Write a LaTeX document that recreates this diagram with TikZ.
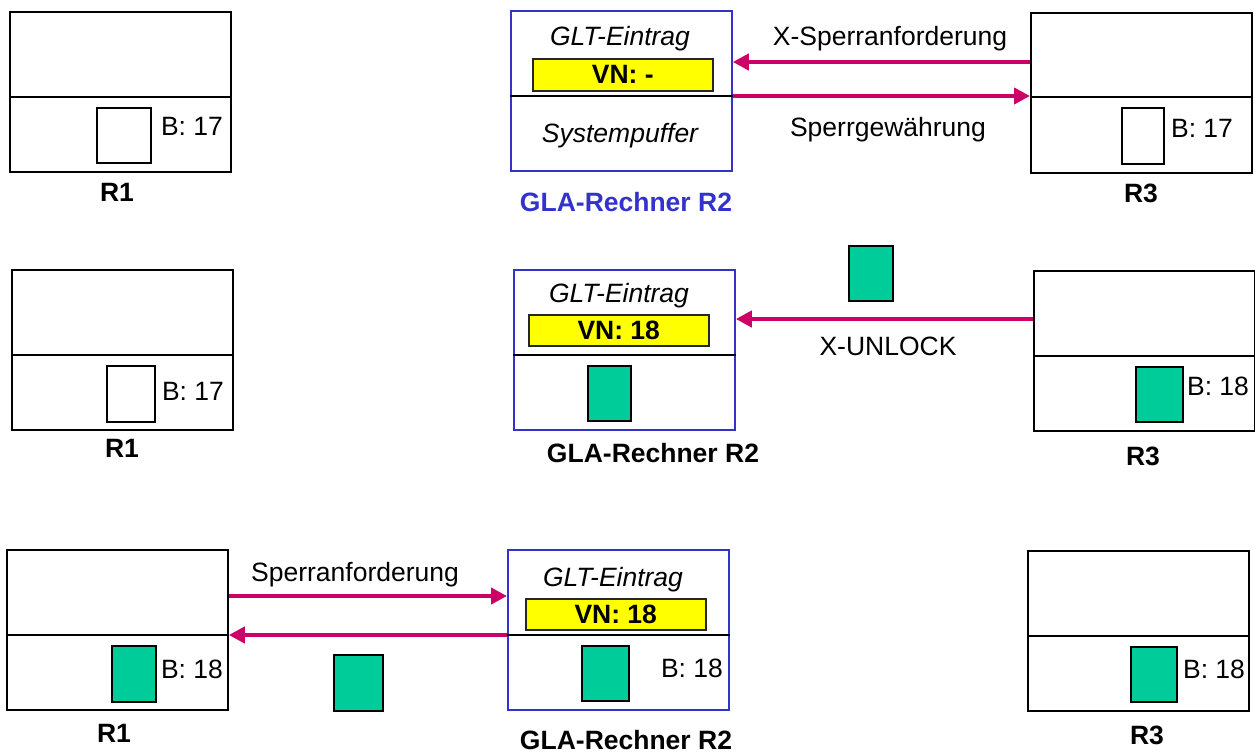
\documentclass[tikz,border=0pt]{standalone}
\usepackage{fontspec}
\setmainfont{Liberation Sans}
\usetikzlibrary{arrows.meta}
\definecolor{mag}{HTML}{CC0066}
\definecolor{grn}{HTML}{00CC99}
\definecolor{blu}{HTML}{3333CC}
\definecolor{yel}{HTML}{FFFF00}
\begin{document}
\begin{tikzpicture}[x=1pt,y=-1pt,
  every node/.style={font=\fontsize{26.5}{30}\selectfont},
  sz/.style 2 args={minimum width=#1pt, minimum height=#2pt},
  host/.style={draw=black, line width=1.8pt, anchor=north west, inner sep=0, sz={221}{160}},
  glahost/.style={host, draw=blu},
  div/.style={draw=black, line width=1.8pt},
  blk/.style={draw=black, line width=1.5pt, anchor=north west, inner sep=0, fill=white},
  gblk/.style={blk, fill=grn},
  vn/.style={draw=black!85, line width=1.5pt, anchor=north west, inner sep=0, fill=yel, font=\fontsize{26.5}{30}\selectfont\bfseries},
  lbl/.style={inner sep=0, text height=19pt, text depth=0pt},
  blbl/.style={lbl, font=\fontsize{26.5}{30}\selectfont\bfseries},
  ilbl/.style={lbl, font=\fontsize{26.5}{30}\selectfont\itshape},
  arr/.style={draw=mag, line width=4pt, -{Triangle[length=16pt,width=16pt]}}
]
\useasboundingbox (0,0) rectangle (1255,753);

% ---------------- Row 1 ----------------
\node[host] (r1a) at (9,11) {};
\draw[div] ([yshift=-86pt]r1a.north west) -- ([yshift=-86pt]r1a.north east);
\node[blk, sz={54}{55}] (b1a) at (96,107) {};
\node[lbl] (t1a) at (192,126) {B: 17};
\node[blbl] (n1a) at (117,192) {R1};

\node[glahost] (r2a) at (510,10) {};
\draw[div] ([yshift=-86pt]r2a.north west) -- ([yshift=-86pt]r2a.north east);
\node[ilbl] (g2a) at (620,36) {GLT-Eintrag};
\node[vn, sz={180}{32}] (v2a) at (532,58) {VN: -};
\node[ilbl] (s2a) at (620,133) {Systempuffer};
\node[blbl, text=blu] (n2a) at (626,202) {GLA-Rechner R2};

\node[host] (r3a) at (1030,12) {};
\draw[div] ([yshift=-85pt]r3a.north west) -- ([yshift=-85pt]r3a.north east);
\node[blk, sz={42}{56}] (b3a) at (1121,107) {};
\node[lbl] (t3a) at (1202,128) {B: 17};
\node[blbl] (n3a) at (1141,193) {R3};

\coordinate (a1) at ([yshift=-50pt]r3a.north west);
\draw[arr] (a1) -- (a1 -| r2a.east);
\node[lbl] (l1) at (890,36) {X-Sperranforderung};
\coordinate (a2) at ([yshift=-86pt]r2a.north east);
\draw[arr] (a2) -- (a2 -| r3a.west);
\node[lbl] (l2) at (888,127) {Sperrgewährung};

% ---------------- Row 2 ----------------
\node[host] (r1b) at (11,269) {};
\draw[div] ([yshift=-86pt]r1b.north west) -- ([yshift=-86pt]r1b.north east);
\node[blk, sz={48}{56}] (b1b) at (106,365) {};
\node[lbl] (t1b) at (193,391) {B: 17};
\node[blbl] (n1b) at (122,448) {R1};

\node[glahost] (r2b) at (513,269) {};
\draw[div] ([yshift=-86pt]r2b.north west) -- ([yshift=-86pt]r2b.north east);
\node[ilbl] (g2b) at (619,293) {GLT-Eintrag};
\node[vn, sz={180}{31}] (v2b) at (528,314) {VN: 18};
\node[gblk, sz={43}{55}] (b2b) at (587,365) {};
\node[blbl] (n2b) at (653,453) {GLA-Rechner R2};

\node[host] (r3b) at (1033,270) {};
\draw[div] ([yshift=-86pt]r3b.north west) -- ([yshift=-86pt]r3b.north east);
\node[gblk, sz={47}{55}] (b3b) at (1135,366) {};
\node[lbl] (t3b) at (1218,386) {B: 18};
\node[blbl] (n3b) at (1143,456) {R3};

\node[gblk, sz={44}{55}] (fb) at (848,245) {};
\coordinate (a3) at ([yshift=-49pt]r3b.north west);
\draw[arr] (a3) -- (a3 -| r2b.east);
\node[lbl] (l3) at (888,346) {X-UNLOCK};

% ---------------- Row 3 ----------------
\node[host] (r1c) at (6,549) {};
\draw[div] ([yshift=-86pt]r1c.north west) -- ([yshift=-86pt]r1c.north east);
\node[gblk, sz={44}{56}] (b1c) at (111,645) {};
\node[lbl] (t1c) at (192,669) {B: 18};
\node[blbl] (n1c) at (114,733) {R1};

\node[glahost] (r2c) at (507,549) {};
\draw[div] ([yshift=-86pt]r2c.north west) -- ([yshift=-86pt]r2c.north east);
\node[ilbl] (g2c) at (613,577) {GLT-Eintrag};
\node[vn, sz={180}{31}] (v2c) at (525,598) {VN: 18};
\node[gblk, sz={47}{55}] (b2c) at (581,645) {};
\node[lbl] (t2c) at (692,668) {B: 18};
\node[blbl] (n2c) at (626,740) {GLA-Rechner R2};

\node[host] (r3c) at (1027,550) {};
\draw[div] ([yshift=-86pt]r3c.north west) -- ([yshift=-86pt]r3c.north east);
\node[gblk, sz={46}{55}] (b3c) at (1130,646) {};
\node[lbl] (t3c) at (1214,669) {B: 18};
\node[blbl] (n3c) at (1147,735) {R3};

\coordinate (a4) at ([yshift=-47pt]r1c.north east);
\draw[arr] (a4) -- (a4 -| r2c.west);
\node[lbl] (l4) at (355,572) {Sperranforderung};
\coordinate (a5) at ([yshift=-86pt]r2c.north west);
\draw[arr] (a5) -- (a5 -| r1c.east);
\node[gblk, sz={49}{56}] (fc) at (333,654) {};
\end{tikzpicture}
\end{document}
